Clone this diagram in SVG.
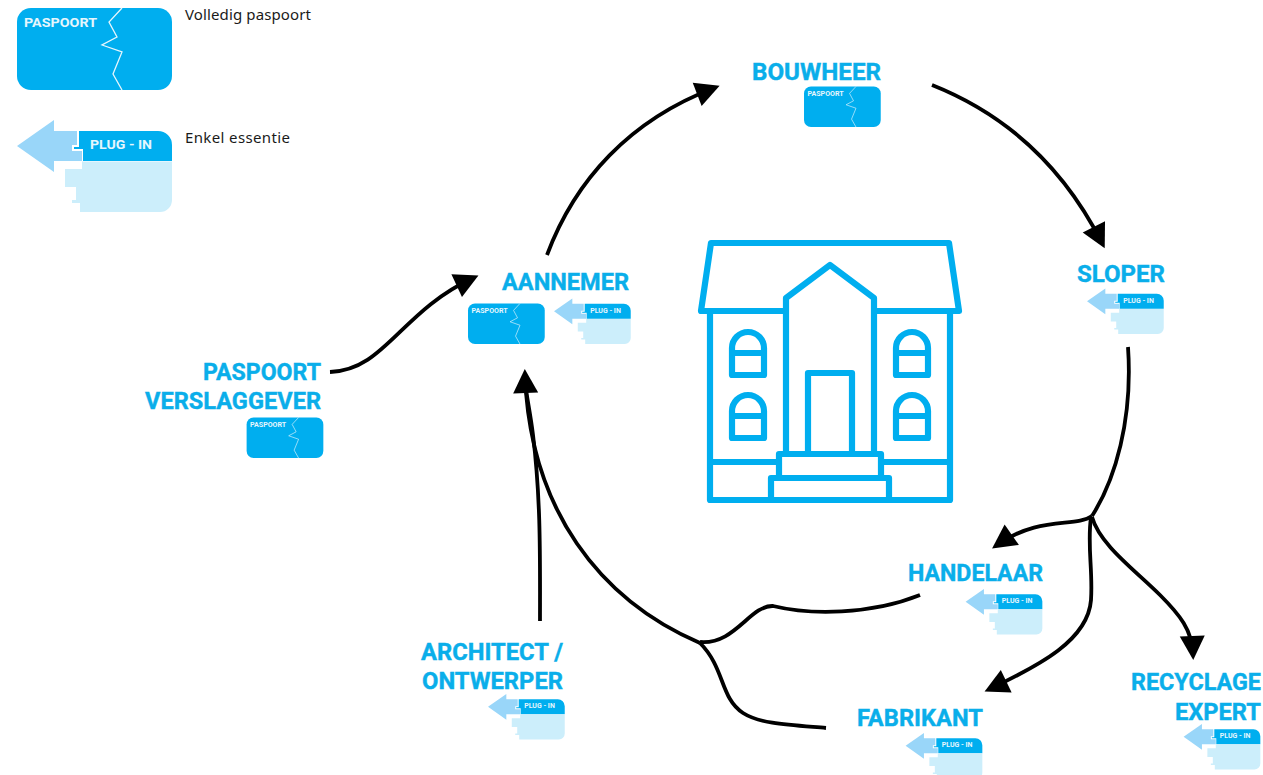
<svg xmlns="http://www.w3.org/2000/svg" width="1263" height="775" viewBox="0 0 1263 775">
<style>
.lbl{font-family:"Roboto","Liberation Sans",sans-serif;font-weight:700;font-size:23px;fill:#0aaeea;stroke:#0aaeea;stroke-width:.4}
.leg{font-family:"Noto Sans","Liberation Sans",sans-serif;font-size:15px;fill:#1a1a1a}
.tag{font-family:"Roboto","Liberation Sans",sans-serif;font-weight:700;font-size:13.5px;fill:#e6f6fd}
.con{fill:none;stroke:#000;stroke-width:3.8}
.hs{fill:none;stroke:#00aeef;stroke-width:6.2;stroke-linejoin:round}
</style>
<defs>
<marker id="ah" markerUnits="userSpaceOnUse" markerWidth="30" markerHeight="30" viewBox="-2 -15 30 30" refX="18" refY="0" orient="auto"><path d="M0,-12.5L24,0L0,12.5z" fill="#000"/></marker>
<g id="passport">
<rect x="17" y="8" width="155" height="82" rx="14" fill="#00aeef"/>
<path d="M122,8L109,22L117,37L102,45L122,52L113,74L122,90" fill="none" stroke="#e6f6fd" stroke-width="1.3"/>
<text class="tag" x="24" y="27" textLength="73" lengthAdjust="spacingAndGlyphs">PASPOORT</text>
</g>
<g id="plug">
<path d="M17,146L54,120V131H77V145H72V151H82V161H54V172z" fill="#99d6f9"/>
<path d="M79,131H158A14,14 0 0 1 172,145V161H83V149H74V147H79z" fill="#00aeef"/>
<path d="M82,161.500H172V200A12,12 0 0 1 160,212H80V203H72V200H76V187H65V169H82z" fill="#cceefb"/>
<text class="tag" x="90" y="149" textLength="62" lengthAdjust="spacingAndGlyphs">PLUG - IN</text>
</g>
</defs>

<g id="connectors">
<path class="con" marker-end="url(#ah)" d="M330,372C385,370 400,312 473,278"/>
<path class="con" marker-end="url(#ah)" d="M547,255C575,180 630,120 714,88"/>
<path class="con" marker-end="url(#ah)" d="M932,85C1000,112 1060,160 1102,243"/>
<path class="con" d="M1128,347C1133,420 1115,480 1092,516"/>
<path class="con" marker-end="url(#ah)" d="M1092,516C1075,528 1040,515 997,545"/>
<path class="con" marker-end="url(#ah)" d="M1091,517C1087,545 1093,570 1091,600C1088,640 1040,665 990,689"/>
<path class="con" marker-end="url(#ah)" d="M1092,517C1100,545 1135,570 1160,595C1180,615 1192,630 1193,654"/>
<path class="con" d="M920,595C870,615 810,615 773,606C750,605 735,645 700,642"/>
<path class="con" marker-end="url(#ah)" d="M700,643C600,600 530,510 525,375"/>
<path class="con" d="M826,728C790,725 760,724 743,713C720,698 725,668 700,643"/>
<path class="con" d="M540,621C540,560 541,500 533,435C530,410 526,395 525,380"/>
</g>

<g id="house">
<path class="hs" d="M786,311H701L711,243H949L959,311H874"/>
<path class="hs" d="M786,452V298L830,265L874,298V452"/>
<path class="hs" d="M710,311V500H950V311"/>
<path class="hs" d="M710,462H779M881,462H950"/>
<rect class="hs" x="779" y="454" width="102" height="24"/>
<rect class="hs" x="771" y="478" width="118" height="22"/>
<path class="hs" d="M808,452V373H852V452"/>
<path class="hs" d="M732,375V348A16,16 0 0 1 764,348V375zM732,353H764"/>
<path class="hs" d="M732,438V411A16,16 0 0 1 764,411V438zM732,416H764"/>
<path class="hs" d="M896,375V348A16,16 0 0 1 928,348V375zM896,353H928"/>
<path class="hs" d="M896,438V411A16,16 0 0 1 928,411V438zM896,416H928"/>
</g>

<g id="legend-paspoort"><use href="#passport"/><text class="leg" x="185" y="20" textLength="126">Volledig paspoort</text></g>
<g id="legend-plugin"><use href="#plug"/><text class="leg" x="185" y="143" textLength="105">Enkel essentie</text></g>

<g id="bouwheer"><text class="lbl" x="752" y="80" textLength="129" lengthAdjust="spacingAndGlyphs">BOUWHEER</text><use href="#passport" transform="translate(795.600 82.500) scale(.495)"/></g>
<g id="aannemer"><text class="lbl" x="502" y="290" textLength="127" lengthAdjust="spacingAndGlyphs">AANNEMER</text><use href="#passport" transform="translate(459.600 299.500) scale(.495)"/><use href="#plug" transform="translate(545.600 239) scale(.495)"/></g>
<g id="sloper"><text class="lbl" x="1077" y="282" textLength="88" lengthAdjust="spacingAndGlyphs">SLOPER</text><use href="#plug" transform="translate(1078.600 229) scale(.495)"/></g>
<g id="verslaggever"><text class="lbl" x="203" y="380" textLength="118" lengthAdjust="spacingAndGlyphs">PASPOORT</text><text class="lbl" x="145" y="409" textLength="176" lengthAdjust="spacingAndGlyphs">VERSLAGGEVER</text><use href="#passport" transform="translate(238.200 413.500) scale(.495)"/></g>
<g id="handelaar"><text class="lbl" x="908" y="581" textLength="135" lengthAdjust="spacingAndGlyphs">HANDELAAR</text><use href="#plug" transform="translate(957.200 529.500) scale(.495)"/></g>
<g id="architect"><text class="lbl" x="421" y="660" textLength="142" lengthAdjust="spacingAndGlyphs">ARCHITECT /</text><text class="lbl" x="422" y="689" textLength="141" lengthAdjust="spacingAndGlyphs">ONTWERPER</text><use href="#plug" transform="translate(479.600 634.500) scale(.495)"/></g>
<g id="fabrikant"><text class="lbl" x="857" y="726" textLength="126" lengthAdjust="spacingAndGlyphs">FABRIKANT</text><use href="#plug" transform="translate(897.200 673.500) scale(.495)"/></g>
<g id="recyclage"><text class="lbl" x="1131" y="690" textLength="130" lengthAdjust="spacingAndGlyphs">RECYCLAGE</text><text class="lbl" x="1175" y="720" textLength="86" lengthAdjust="spacingAndGlyphs">EXPERT</text><use href="#plug" transform="translate(1175.200 664.500) scale(.495)"/></g>
</svg>
